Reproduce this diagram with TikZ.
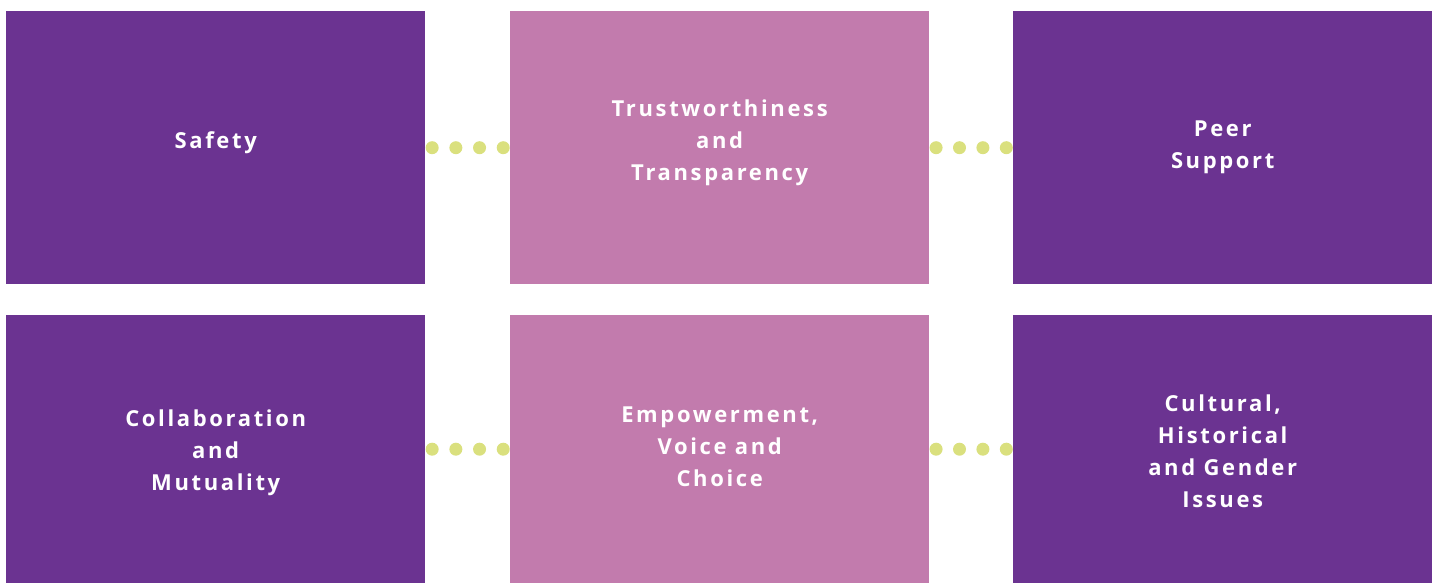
\documentclass[tikz,border=0pt]{standalone}
\usepackage{fontspec}
\setmainfont{Open Sans}[LetterSpace=12]
\usetikzlibrary{calc}
\definecolor{darkpurple}{HTML}{6B3391}
\definecolor{softpink}{HTML}{C27BAD}
\definecolor{limedot}{HTML}{DAE07E}
\tikzset{
  pbox/.style={fill=darkpurple, shape=rectangle, anchor=north west, inner sep=0pt, minimum width=419pt},
  kbox/.style={pbox, fill=softpink},
  tlabel/.style={text=white, inner sep=0pt, align=center, font=\fontsize{22}{32}\selectfont\bfseries},
  dot/.style={fill=limedot, draw=none}
}
\begin{document}
\begin{tikzpicture}[x=1pt,y=-1pt]
\useasboundingbox (0,0) rectangle (1435,583);

\node[pbox, minimum height=273pt] (b_1) at (6,11) {};
\node[kbox, minimum height=273pt] (b_2) at (510,11) {};
\node[pbox, minimum height=273pt] (b_3) at (1013,11) {};
\node[pbox, minimum height=268pt] (b_4) at (6,315) {};
\node[kbox, minimum height=268pt] (b_5) at (510,315) {};
\node[pbox, minimum height=268pt] (b_6) at (1013,315) {};

\node[tlabel, yshift=5pt] (t_1) at (b_1.center) {Safety};
\node[tlabel, yshift=5pt] (t_2) at (b_2.center) {Trustworthiness\\and\\Transparency};
\node[tlabel] (t_3) at (b_3.center) {Peer\\Support};
\node[tlabel, yshift=-4pt] (t_4) at (b_4.center) {Collaboration\\and\\Mutuality};
\node[tlabel, yshift=2pt] (t_5) at (b_5.center) {Empowerment,\\Voice and\\Choice};
\node[tlabel, yshift=-2pt] (t_6) at (b_6.center) {Cultural,\\Historical\\and Gender\\Issues};

% dotted links
\foreach \a/\b in {b_1/b_2, b_2/b_3, b_4/b_5, b_5/b_6}
  \foreach \t in {0.08,0.36,0.64,0.92}
    \fill[dot] ($(\a.east)!\t!(\b.west)$) circle (6.5);
\end{tikzpicture}
\end{document}
